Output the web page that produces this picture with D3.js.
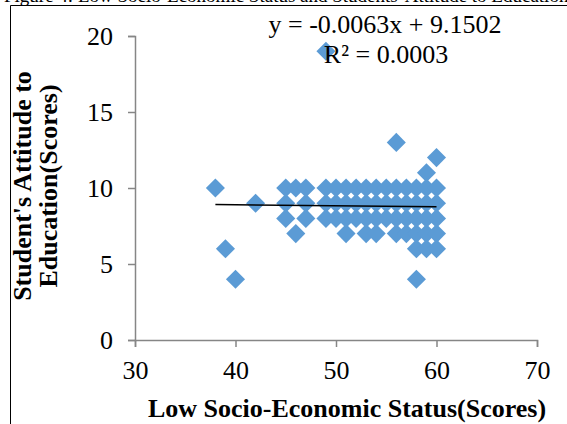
<!DOCTYPE html>
<html>
<head>
<meta charset="utf-8">
<script src="https://cdn.jsdelivr.net/npm/d3@7"></script>
<style>
  body { margin: 0; background: #fff; }
  svg { display: block; font-family: "Liberation Serif", "Times New Roman", serif; }
</style>
</head>
<body>
<svg id="chart" width="567" height="424"></svg>
<script>
// scores: [socio-economic status, attitude]
const points = [
  [38, 10], [39, 6], [40, 4], [42, 9], [49, 19], [56, 13], [58, 4], [59, 11], [60, 12],
  [45, 8], [45, 9], [45, 10],
  [46, 7], [46, 10],
  [47, 8], [47, 9], [47, 10],
  [49, 8], [49, 9], [49, 10],
  [50, 8], [50, 9], [50, 10],
  [51, 7], [51, 8], [51, 9], [51, 10],
  [52, 8], [52, 9], [52, 10],
  [53, 7], [53, 8], [53, 9], [53, 10],
  [54, 7], [54, 8], [54, 9], [54, 10],
  [55, 8], [55, 9], [55, 10],
  [56, 7], [56, 8], [56, 9], [56, 10],
  [57, 7], [57, 8], [57, 9], [57, 10],
  [58, 6], [58, 7], [58, 8], [58, 9], [58, 10],
  [59, 6], [59, 7], [59, 8], [59, 9], [59, 10],
  [60, 6], [60, 7], [60, 8], [60, 9], [60, 10]
];
const xTicks = [30, 40, 50, 60, 70];
const yTicks = [0, 5, 10, 15, 20];
const trendSlope = -0.0063;
const trendIntercept = 9.1502;
const trendRange = [38, 60];
const equationText = "y = -0.0063x + 9.1502";
const rSquaredText = "R² = 0.0003";
const xTitle = "Low Socio-Economic Status(Scores)";
const yTitleLines = ["Student's Attitude to", "Education(Scores)"];
const captionText = "Figure 4: Low Socio-Economic Status and Students' Attitude to Education";

const svg = d3.select("#chart");
const AXIS_COLOR = "#868686";
const MARKER_COLOR = "#5b9bd5";

const x = d3.scaleLinear().domain([30, 70]).range([135, 537]);
const y = d3.scaleLinear().domain([0, 20]).range([340, 36]);

// caption line of the page, mostly cut off above the frame
svg.append("text")
  .attr("x", 4)
  .attr("y", 2)
  .attr("font-size", 19)
  .attr("fill", "#000")
  .text(captionText);

// frame around the chart, cut off at right and bottom
svg.append("path")
  .attr("d", "M10.5,424 V5.5 H567")
  .attr("fill", "none")
  .attr("stroke", "#000")
  .attr("stroke-width", 1);

const xAxis = svg.append("g")
  .attr("transform", `translate(0,${y(0)})`)
  .call(d3.axisBottom(x).tickValues(xTicks).tickSize(7).tickPadding(14));

const yAxis = svg.append("g")
  .attr("transform", `translate(${x(30)},0)`)
  .call(d3.axisLeft(y).tickValues(yTicks).tickSize(7).tickPadding(15));

[xAxis, yAxis].forEach((axis) => {
  axis.selectAll("path, line").attr("stroke", AXIS_COLOR).attr("stroke-width", 1.5);
  axis.selectAll("text")
    .attr("fill", "#000")
    .attr("font-size", 26)
    .attr("font-family", "'Liberation Serif', serif");
});

svg.append("g")
  .selectAll("path.marker")
  .data(points)
  .join("path")
  .attr("class", "marker")
  .attr("d", d3.symbol(d3.symbolSquare, 182))
  .attr("transform", (d) => `translate(${x(d[0])},${y(d[1])}) rotate(45)`)
  .attr("fill", MARKER_COLOR);

svg.append("line")
  .attr("x1", x(trendRange[0]))
  .attr("y1", y(trendSlope * trendRange[0] + trendIntercept))
  .attr("x2", x(trendRange[1]))
  .attr("y2", y(trendSlope * trendRange[1] + trendIntercept))
  .attr("stroke", "#000")
  .attr("stroke-width", 1.5);

svg.append("text")
  .attr("x", 385)
  .attr("y", 33)
  .attr("text-anchor", "middle")
  .attr("font-size", 26)
  .text(equationText);

svg.append("text")
  .attr("x", 386)
  .attr("y", 63)
  .attr("text-anchor", "middle")
  .attr("font-size", 26)
  .text(rSquaredText);

svg.append("text")
  .attr("x", 347)
  .attr("y", 417)
  .attr("text-anchor", "middle")
  .attr("font-size", 26)
  .attr("font-weight", "bold")
  .text(xTitle);

svg.append("text")
  .attr("transform", "translate(31,186) rotate(-90)")
  .attr("text-anchor", "middle")
  .attr("font-size", 26)
  .attr("font-weight", "bold")
  .selectAll("tspan")
  .data(yTitleLines)
  .join("tspan")
  .attr("x", 0)
  .attr("dy", (d, i) => (i === 0 ? 0 : 26))
  .text((d) => d);
</script>
</body>
</html>
